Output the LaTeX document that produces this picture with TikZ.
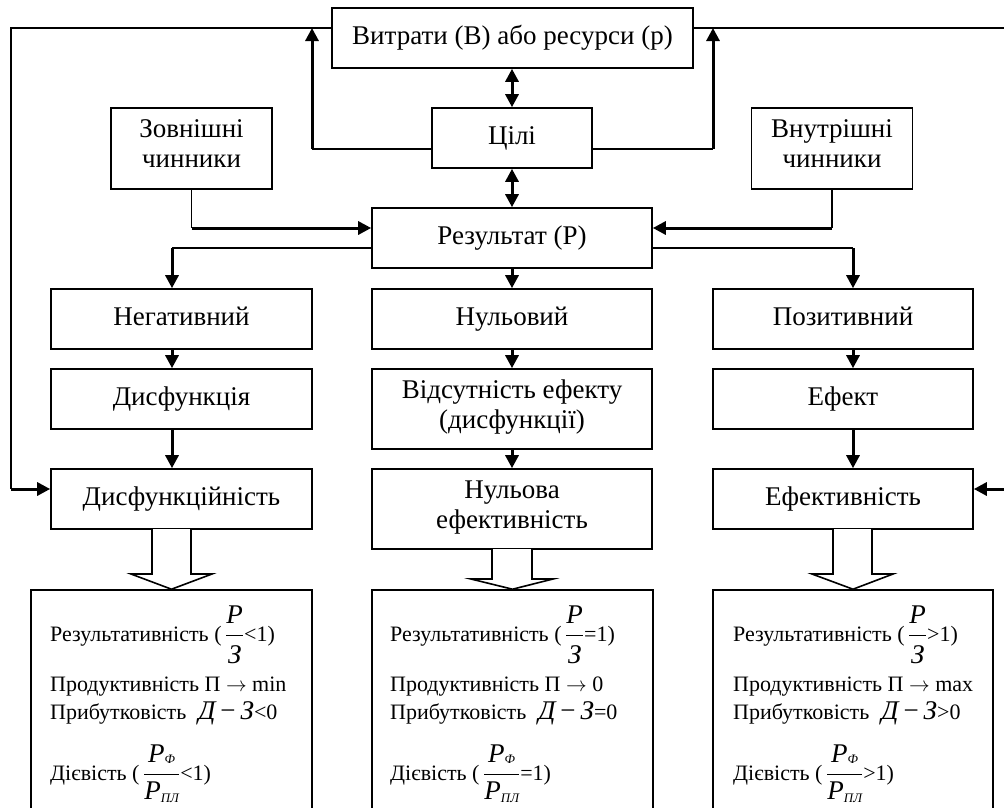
\documentclass[tikz,border=0pt]{standalone}
\usepackage{amsmath}
\usepackage{fontspec}
\setmainfont{Liberation Serif}
\usetikzlibrary{arrows.meta,calc}
\newcommand{\bigi}[1]{{\fontsize{27}{27}\selectfont\itshape #1}}
\newcommand{\subi}[1]{{\fontsize{13}{13}\selectfont\itshape #1}}
\newcommand{\fracPZ}{\ensuremath{\genfrac{}{}{0.9pt}{0}{\mbox{\bigi{P}\rule[-9pt]{0pt}{9pt}}}{\mbox{\rule{0pt}{25pt}\bigi{З}}}}}
\newcommand{\fracPP}{\ensuremath{\genfrac{}{}{0.9pt}{0}{\mbox{\bigi{P}\raisebox{-1pt}{\subi{Ф}}\rule[-9pt]{0pt}{9pt}}}{\mbox{\rule{0pt}{22pt}\bigi{P}\raisebox{-3pt}{\subi{ПЛ}}}}}}
\newcommand{\DZ}{\bigi{Д}\hspace{5pt}{\fontsize{27}{27}\selectfont −}\hspace{5pt}\bigi{З}}
\newcommand{\arr}{\ensuremath{\rightarrow}}
\tikzset{
  box/.style={draw, line width=1.6pt, rectangle, align=center, inner sep=0pt,
    font=\fontsize{27}{30}\selectfont,
    execute at begin node=\strut, execute at end node=\strut},
  thinl/.style={line width=1.6pt},
  tharrow/.style={line width=3pt, -{Triangle[length=13pt,width=13pt]}},
  dblarrow/.style={line width=3pt, {Triangle[length=13pt,width=13pt]}-{Triangle[length=13pt,width=13pt]}},
  hollow/.style={line width=1.6pt, fill=white, line join=miter},
  txt/.style={anchor=base west, inner sep=0pt, font=\fontsize{22}{26}\selectfont},
}
\begin{document}
\begin{tikzpicture}[x=1pt,y=-1pt]
\useasboundingbox (0,0) rectangle (1004,807);
\fill[white] (0,0) rectangle (1004,807);
\clip (0,0) rectangle (1004,807);

% boxes
\node[box, minimum width=361, minimum height=60] (top) at (512.5,38) {Витрати (В) або ресурси (р)};
\node[box, minimum width=160, minimum height=60] (goal) at (512,138) {Цілі};
\node[box, minimum width=161, minimum height=81] (ext) at (191.5,148.5) {Зовнішні\\чинники};
\node[box, minimum width=161, minimum height=81] (int) at (832,148.5) {Внутрішні\\чинники};
\node[box, minimum width=280, minimum height=60] (res) at (512,238) {Результат (Р)};

\node[box, minimum width=261, minimum height=60] (neg) at (181.5,319) {Негативний};
\node[box, minimum width=261, minimum height=60] (dys) at (181.5,399) {Дисфункція};
\node[box, minimum width=261, minimum height=60] (dysn) at (181.5,499) {Дисфункційність};

\node[box, minimum width=280, minimum height=60] (zero) at (512,319) {Нульовий};
\node[box, minimum width=280, minimum height=80] (abs) at (512,409) {Відсутність ефекту\\(дисфункції)};
\node[box, minimum width=280, minimum height=80] (zeff) at (512,509) {Нульова\\ефективність};

\node[box, minimum width=260, minimum height=60] (pos) at (843,319) {Позитивний};
\node[box, minimum width=260, minimum height=60] (eff) at (843,399) {Ефект};
\node[box, minimum width=260, minimum height=60] (effn) at (843,499) {Ефективність};

\node[draw, line width=1.6pt, inner sep=0pt, minimum width=281, minimum height=230] (bl) at (171.5,705) {};
\node[draw, line width=1.6pt, inner sep=0pt, minimum width=281, minimum height=230] (bm) at (512.5,705) {};
\node[draw, line width=1.6pt, inner sep=0pt, minimum width=280, minimum height=230] (br) at (853,705) {};

% coordinates
\coordinate (fbL) at (11,489);
\coordinate (fbR) at (1006,489);
\coordinate (gL) at (312,149);
\coordinate (gR) at (713,149);
\coordinate (eL) at (191.5,228);
\coordinate (iR) at (832,228);
\coordinate (cL) at (172,248);
\coordinate (cR) at (853,248);

% feedback loops
\draw[thinl] ($(top.west)+(0,-10)$) -| (fbL);
\draw[tharrow] (fbL) -- (fbL -| dysn.west);
\draw[thinl] ($(top.east)+(0,-10)$) -| (fbR);
\draw[tharrow] (fbR) -- (fbR -| effn.east);

% goals to costs
\draw[thinl] (goal.west |- gL) -- (gL);
\draw[tharrow] (gL) -- (gL |- top.west) -- +(0,-10);
\draw[thinl] (goal.east |- gR) -- (gR);
\draw[tharrow] (gR) -- (gR |- top.east) -- +(0,-10);

% double arrows
\draw[dblarrow] (goal.north) -- (goal.north |- top.south);
\draw[dblarrow] (goal.south) -- (goal.south |- res.north);

% external / internal factors
\draw[thinl] (ext.south) -- (eL);
\draw[tharrow] (eL) -- (eL -| res.west);
\draw[thinl] (int.south) -- (iR);
\draw[tharrow] (iR) -- (iR -| res.east);

% result to columns
\draw[thinl] (res.west |- cL) -- (cL);
\draw[tharrow] (cL) -- (cL |- neg.north);
\draw[thinl] (res.east |- cR) -- (cR);
\draw[tharrow] (cR) -- (cR |- pos.north);
\draw[tharrow] (res.south) -- (zero.north);

% columns
\draw[tharrow] (neg.south -| cL) -- (dys.north -| cL);
\draw[tharrow] (dys.south -| cL) -- (dysn.north -| cL);
\draw[tharrow] (zero.south) -- (abs.north);
\draw[tharrow] (abs.south) -- (zeff.north);
\draw[tharrow] (pos.south -| cR) -- (eff.north -| cR);
\draw[tharrow] (eff.south -| cR) -- (effn.north -| cR);

% hollow arrows
\draw[hollow] (152,529) -- (152,574) -- (131,574) -- (bl.north) -- (212,574) -- (191,574) -- (191,529);
\draw[hollow] (492,549) -- (492,579) -- (471,579) -- (bm.north) -- (553,579) -- (532,579) -- (532,549);
\draw[hollow] (833,529) -- (833,574) -- (812,574) -- (br.north) -- (893,574) -- (872,574) -- (872,529);

% bottom texts
\node[txt] (l1) at (50,641) {Результативність (\,\fracPZ<1)};
\node[txt] (l2) at (50,691) {Продуктивність П \arr{} min};
\node[txt] (l3) at (50,719) {Прибутковість\hspace{12pt}\DZ<0};
\node[txt] (l4) at (50,780) {Дієвість (\,\fracPP<1)};

\node[txt] (m1) at (390,641) {Результативність (\,\fracPZ=1)};
\node[txt] (m2) at (390,691) {Продуктивність П \arr{} 0};
\node[txt] (m3) at (390,719) {Прибутковість\hspace{12pt}\DZ=0};
\node[txt] (m4) at (390,780) {Дієвість (\,\fracPP=1)};

\node[txt] (r1) at (733,641) {Результативність (\,\fracPZ>1)};
\node[txt] (r2) at (733,691) {Продуктивність П \arr{} max};
\node[txt] (r3) at (733,719) {Прибутковість\hspace{12pt}\DZ>0};
\node[txt] (r4) at (733,780) {Дієвість (\,\fracPP>1)};
\end{tikzpicture}
\end{document}
